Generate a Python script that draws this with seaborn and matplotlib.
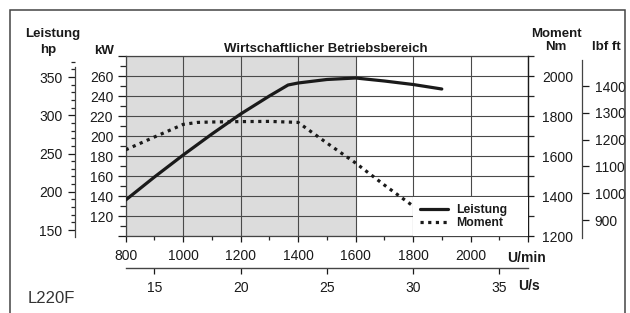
import matplotlib
matplotlib.use("Agg")
import matplotlib.pyplot as plt
import seaborn as sns
from matplotlib.patches import Rectangle
from matplotlib.ticker import FixedLocator, MultipleLocator

# Leistung (kW) over engine speed
rpm_power = [800, 900, 1000, 1100, 1200, 1300, 1365, 1400, 1500, 1600, 1700, 1800, 1900]
power_kw = [136, 159, 181, 202, 222, 240, 251, 253, 256.5, 258, 255, 251.5, 247]

# Moment (Nm) over engine speed
rpm_torque = [800, 900, 1000, 1050, 1100, 1200, 1300, 1400, 1500, 1600, 1700, 1800]
torque_nm = [1631, 1695, 1758, 1768, 1770, 1772, 1773, 1768, 1665, 1565, 1455, 1350]

eco_range = (800, 1600)
kw_ticks = [120, 140, 160, 180, 200, 220, 240, 260]
nm_ticks = [1200, 1400, 1600, 1800, 2000]
hp_ticks = [150, 200, 250, 300, 350]
lbf_ticks = [900, 1000, 1100, 1200, 1300, 1400]
rpm_ticks = [800, 1000, 1200, 1400, 1600, 1800, 2000]
us_ticks = [15, 20, 25, 30, 35]

sns.set_style("white")
plt.rcParams['font.family'] = ['Liberation Sans', 'DejaVu Sans']

W, H = 630, 313
fig = plt.figure(figsize=(6.3, 3.13), dpi=100)


def fx(px):
    return px / W


def fy(py):
    return 1 - py / H


ink = '#1a1a1a'
left, right, top, bottom = 125.7, 528, 56, 236
ax = fig.add_axes([fx(left), fy(bottom), fx(right - left), (bottom - top) / H])
ax.set_xlim(800, 2200)
ax.set_ylim(100, 280)

ax.axvspan(*eco_range, color='#dcdcdc', lw=0, zorder=0)

ax.xaxis.set_major_locator(FixedLocator(list(range(800, 2201, 200))))
ax.xaxis.set_minor_locator(FixedLocator(list(range(900, 2200, 200))))
ax.set_xticklabels([str(v) if v in rpm_ticks else '' for v in range(800, 2201, 200)])
ax.yaxis.set_major_locator(FixedLocator(list(range(100, 281, 20))))
ax.yaxis.set_minor_locator(FixedLocator(list(range(110, 280, 20))))
ax.set_yticklabels([str(v) if v in kw_ticks else '' for v in range(100, 281, 20)])
ax.grid(True, which='major', color='#4a4a4a', lw=0.8, zorder=1)
ax.set_axisbelow(True)
ax.tick_params(axis='y', which='major', direction='out', length=6, width=0.9,
               pad=3, labelsize=10, colors=ink, left=True)
ax.tick_params(axis='y', which='minor', direction='out', length=4, width=0.9, left=True)
ax.tick_params(axis='x', which='major', direction='out', length=4, width=0.9,
               pad=5, labelsize=10, colors=ink, bottom=True)
ax.tick_params(axis='x', which='minor', direction='out', length=3, width=0.9, bottom=True)
for s in ['left', 'top', 'bottom']:
    ax.spines[s].set_color('#444444')
    ax.spines[s].set_linewidth(0.9)
ax.spines['right'].set_visible(False)

sns.lineplot(x=rpm_power, y=power_kw, ax=ax, color=ink, lw=2.3, sort=False,
             label='Leistung', legend=False, zorder=3)
ax.set_xlabel('')
ax.set_ylabel('')

# Nm axis
ax_nm = ax.twinx()
ax_nm.set_ylim(1200, 2100)
sns.lineplot(x=rpm_torque, y=torque_nm, ax=ax_nm, color=ink, lw=2.3, sort=False,
             linestyle=(0, (1, 1.4)), label='Moment', legend=False, zorder=3)
ax_nm.set_ylabel('')
ax_nm.yaxis.set_major_locator(FixedLocator(nm_ticks))
ax_nm.yaxis.set_minor_locator(FixedLocator([1300, 1500, 1700, 1900, 2100]))
ax_nm.tick_params(axis='y', which='major', direction='out', length=4, width=0.9,
                  pad=6, labelsize=10, colors=ink, right=True)
ax_nm.tick_params(axis='y', which='minor', direction='out', length=4, width=0.9, right=True)
for s in ['left', 'top', 'bottom']:
    ax_nm.spines[s].set_visible(False)
ax_nm.spines['right'].set_color(ink)
ax_nm.spines['right'].set_linewidth(1.0)

# hp axis
ax_hp = ax.twinx()
ax_hp.set_ylim(142.2, 377.5)
ax_hp.yaxis.set_ticks_position('left')
ax_hp.yaxis.set_label_position('left')
for s in ['right', 'top', 'bottom']:
    ax_hp.spines[s].set_visible(False)
ax_hp.spines['left'].set_position(('axes', (75 - left) / (right - left)))
ax_hp.spines['left'].set_bounds(141, 363)
ax_hp.spines['left'].set_color('#444444')
ax_hp.spines['left'].set_linewidth(0.9)
ax_hp.yaxis.set_major_locator(FixedLocator(hp_ticks))
ax_hp.yaxis.set_minor_locator(MultipleLocator(10))
ax_hp.tick_params(axis='y', which='major', direction='out', length=5, width=0.9,
                  pad=4, labelsize=10, colors=ink, left=True, right=False)
ax_hp.tick_params(axis='y', which='minor', direction='out', length=3, width=0.9,
                  left=True, right=False)

# lbf ft axis
ax_lbf = ax.twinx()
ax_lbf.set_ylim(840.3, 1512)
for s in ['left', 'top', 'bottom']:
    ax_lbf.spines[s].set_visible(False)
ax_lbf.spines['right'].set_position(('axes', (582 - left) / (right - left)))
ax_lbf.spines['right'].set_bounds(833, 1497)
ax_lbf.spines['right'].set_color('#444444')
ax_lbf.spines['right'].set_linewidth(0.9)
ax_lbf.yaxis.set_major_locator(FixedLocator(lbf_ticks))
ax_lbf.tick_params(axis='y', which='major', direction='out', length=5, width=0.9,
                   pad=4, labelsize=10, colors=ink, right=True)

# U/s axis
sec = ax.secondary_xaxis(-(268 - bottom) / (bottom - top),
                         functions=(lambda x: x / 60, lambda x: x * 60))
sec.set_xticks(us_ticks)
sec.tick_params(axis='x', direction='out', length=4, width=0.9, pad=5,
                labelsize=10, colors=ink)
sec.spines['bottom'].set_color('#444444')
sec.spines['bottom'].set_linewidth(1.0)

# legend
h1, l1 = ax.get_legend_handles_labels()
h2, l2 = ax_nm.get_legend_handles_labels()
leg = ax_nm.legend(h1 + h2, l1 + l2, loc='lower left',
                   bbox_to_anchor=(1000 / 1400, 0, 400 / 1400, 0.2),
                   bbox_transform=ax.transAxes, mode='expand',
                   frameon=True, fancybox=False, edgecolor='none', facecolor='white',
                   framealpha=1, borderaxespad=0,
                   prop=dict(weight='bold', size=8.8), handlelength=2.3,
                   handletextpad=0.7, borderpad=0.55, labelspacing=0.12)
for t in leg.get_texts():
    t.set_color(ink)
leg.set_zorder(5)

# labels
bold = dict(weight='bold', size=9.5, color=ink, ha='center', va='baseline')
fig.text(fx(53), fy(37), 'Leistung', **bold)
fig.text(fx(48), fy(53), 'hp', **bold)
fig.text(fx(104), fy(54), 'kW', **bold)
fig.text(fx(326), fy(52), 'Wirtschaftlicher Betriebsbereich', **bold)
fig.text(fx(556), fy(37), 'Moment', **bold)
fig.text(fx(556), fy(50), 'Nm', **bold)
fig.text(fx(606), fy(50), 'lbf ft', **bold)
fig.text(fx(527), fy(262), 'U/min', weight='bold', size=10, color=ink, ha='center', va='baseline')
fig.text(fx(529), fy(290), 'U/s', weight='bold', size=10, color=ink, ha='center', va='baseline')
fig.text(fx(51), fy(303), 'L220F', size=12, color='#333333', ha='center', va='baseline')

fig.patches.append(Rectangle((fx(10), fy(330)), fx(615), (330 - 10) / H,
                             transform=fig.transFigure, fill=False,
                             edgecolor='#444444', lw=1.1))

fig.savefig('out.png', dpi=100)
